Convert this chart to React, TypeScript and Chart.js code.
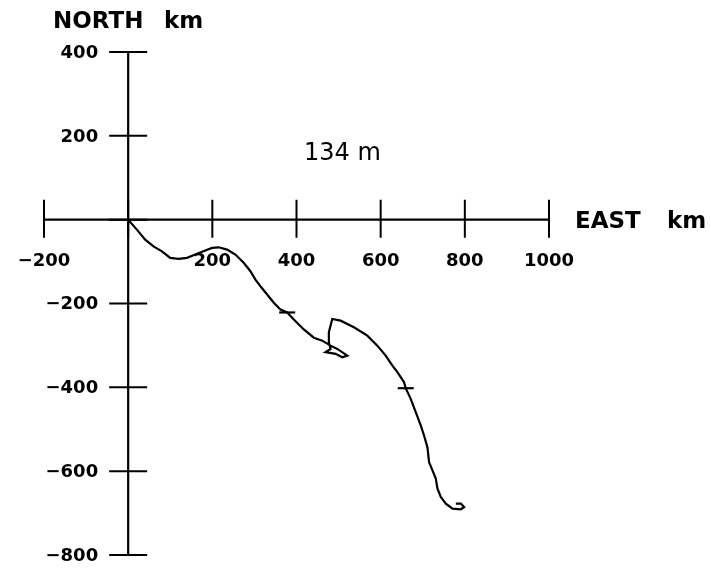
import React, { useEffect, useRef } from "react";
import { Chart, registerables } from "chart.js";

Chart.register(...registerables);

// Progressive vector path (km east, km north)
const eastKm = [
  0, 20.7, 40.5, 60.2, 80.2, 100, 119.8, 139.8, 159.5, 178.6, 199.3, 215, 235, 254.8,
  274.5, 290.5, 302.4, 314.3, 330.2, 346, 361.9, 377.9, 393.6, 417.4, 441.2, 461.2, 481,
  497, 520.7, 508.8, 492.9, 469, 481, 476.9, 476.9, 485, 504.8, 536.4, 568.3, 592.1,
  611.9, 627.9, 639.8, 655.5, 659.5, 671.4, 683.3, 695.2, 703.1, 711.2, 715, 723.1, 731,
  735, 742.9, 754.8, 770.7, 790.5, 798.3, 790.5, 778.6,
];
const northKm = [
  0, -23.8, -47.6, -63.6, -75.5, -91.2, -93.6, -91.2, -83.3, -75.5, -67.4, -65.9, -71.4,
  -83.3, -103, -123, -142.9, -158.8, -178.6, -198.3, -214.3, -221.4, -238, -261.9, -281.6,
  -288.6, -300.5, -308.3, -324.3, -328.1, -320.2, -316.2, -308.3, -292.4, -268.6, -236.9,
  -240.9, -256.7, -276.7, -300.5, -324.3, -348.1, -363.8, -387.6, -402.1, -427.4, -459,
  -491, -514.8, -543.6, -578.6, -598.1, -617.9, -641.7, -661.6, -677.4, -689.3, -691,
  -685.5, -677.4, -677.4,
];

// Time marks along the path
const markEast = [377.9, 659.5];
const markNorth = [-221.4, -402.1];

const xTickValues = [-200, 0, 200, 400, 600, 800, 1000];
const xTickLabels = ["−200", "", "200", "400", "600", "800", "1000"];
const yTickValues = [400, 200, 0, -200, -400, -600, -800];
const yTickLabels = ["400", "200", "", "−200", "−400", "−600", "−800"];

const depthLabel = "134 m";
const xTitleA = "EAST";
const xTitleB = "km";
const yTitleA = "NORTH";
const yTitleB = "km";

const axesPlugin = {
  id: "crossAxes",
  beforeDatasetsDraw(chart: any) {
    const ctx = chart.ctx as CanvasRenderingContext2D;
    const xs = chart.scales.x;
    const ys = chart.scales.y;
    const x0 = xs.getPixelForValue(0);
    const y0 = ys.getPixelForValue(0);
    ctx.save();
    ctx.strokeStyle = "#000";
    ctx.lineWidth = 2.2;
    ctx.lineCap = "butt";
    // x axis
    ctx.beginPath();
    ctx.moveTo(xs.getPixelForValue(xTickValues[0]), y0);
    ctx.lineTo(xs.getPixelForValue(xTickValues[xTickValues.length - 1]), y0);
    // y axis
    ctx.moveTo(x0, ys.getPixelForValue(yTickValues[0]));
    ctx.lineTo(x0, ys.getPixelForValue(yTickValues[yTickValues.length - 1]));
    ctx.stroke();
    ctx.lineWidth = 2;
    ctx.beginPath();
    xTickValues.forEach((v) => {
      const px = xs.getPixelForValue(v);
      ctx.moveTo(px, y0 - 20);
      ctx.lineTo(px, y0 + 18);
    });
    yTickValues.forEach((v) => {
      const py = ys.getPixelForValue(v);
      ctx.moveTo(x0 - 19, py);
      ctx.lineTo(x0 + 19, py);
    });
    ctx.stroke();

    ctx.fillStyle = "#000";
    ctx.font = "bold 18px 'DejaVu Sans'";
    ctx.textAlign = "center";
    ctx.textBaseline = "alphabetic";
    xTickValues.forEach((v, i) => {
      if (!xTickLabels[i]) return;
      ctx.fillText(xTickLabels[i], xs.getPixelForValue(v), y0 + 46);
    });
    ctx.textAlign = "right";
    ctx.textBaseline = "middle";
    yTickValues.forEach((v, i) => {
      if (!yTickLabels[i]) return;
      ctx.fillText(yTickLabels[i], x0 - 30, ys.getPixelForValue(v) + 1);
    });

    ctx.textAlign = "left";
    ctx.textBaseline = "alphabetic";
    ctx.font = "bold 23px 'DejaVu Sans'";
    ctx.fillText(yTitleA, 53, 28);
    ctx.fillText(yTitleB, 164, 28);
    ctx.fillText(xTitleA, 575, y0 + 8);
    ctx.fillText(xTitleB, 667, y0 + 8);

    ctx.font = "24px 'DejaVu Sans'";
    ctx.fillText(depthLabel, 304, 160);
    ctx.restore();
  },
};

export default function App() {
  const canvasRef = useRef<HTMLCanvasElement | null>(null);

  useEffect(() => {
    const canvas = canvasRef.current;
    if (!canvas) return;
    const pathData = eastKm.map((e, i) => ({ x: e, y: northKm[i] }));
    const markData = markEast.map((e, i) => ({ x: e, y: markNorth[i] }));
    const chart = new Chart(canvas, {
      type: "scatter",
      data: {
        datasets: [
          {
            data: pathData,
            showLine: true,
            borderColor: "#000",
            borderWidth: 2.2,
            pointRadius: 0,
            tension: 0,
            fill: false,
            clip: false as any,
          },
          {
            data: markData,
            showLine: false,
            pointStyle: "line",
            pointRadius: 8,
            borderColor: "#000",
            borderWidth: 2.2,
            backgroundColor: "#000",
            clip: false as any,
          },
        ],
      },
      options: {
        animation: false,
        responsive: false,
        maintainAspectRatio: false,
        layout: { padding: { left: 44, right: 162, top: 52, bottom: 13 } },
        plugins: { legend: { display: false }, tooltip: { enabled: false } },
        events: [],
        scales: {
          x: { type: "linear", min: -200, max: 1000, display: false },
          y: { type: "linear", min: -800, max: 400, display: false },
        },
      },
      plugins: [axesPlugin],
    });
    return () => chart.destroy();
  }, []);

  return (
    <div style={{ position: "fixed", left: 0, top: 0, width: 711, height: 568, background: "#fff" }}>
      <canvas ref={canvasRef} width={711} height={568} style={{ display: "block" }} />
    </div>
  );
}
